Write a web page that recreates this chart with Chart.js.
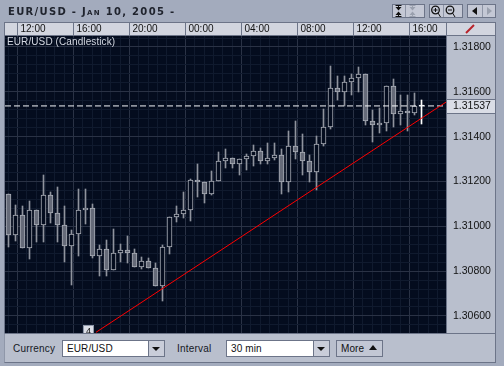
<!DOCTYPE html>
<html><head><meta charset="utf-8">
<script src="https://cdn.jsdelivr.net/npm/chart.js@4"></script>
<style>
html,body{margin:0;padding:0;background:#a3abbd;width:504px;height:366px;overflow:hidden;font-family:"Liberation Sans",Arial,sans-serif}
#c{position:absolute;left:0;top:0}
.abs{position:absolute;box-sizing:border-box}
#title{left:8px;top:6px;font:bold 10px "DejaVu Sans",sans-serif;font-variant:small-caps;letter-spacing:1.3px;color:#20242e;white-space:nowrap}
#sub{left:7px;top:36px;font-size:10px;letter-spacing:.1px;color:#d3d7e0;white-space:nowrap}
#panel{left:4px;top:333px;width:492px;height:30px;background:#b9bfcd;border:1px solid #6c7488;border-left:1px solid #8f97a9}
.lab{top:343px;font-size:10px;letter-spacing:.2px;color:#15181f;white-space:nowrap}
.inp{top:340px;height:17px;background:#fff;border:1px solid #6c7488;font-size:10px;letter-spacing:.1px;color:#111;padding:2px 0 0 4px;white-space:nowrap}
.drop{top:340px;width:17px;height:17px;background:#c9cdd9;border:1px solid #6c7488}
.drop:after{content:"";position:absolute;left:3px;top:6px;border-left:4px solid transparent;border-right:4px solid transparent;border-top:4px solid #111}
.btn{top:340px;left:336px;width:47px;height:17px;background:#c2c7d4;border:1px solid #6c7488;font-size:10px;letter-spacing:.1px;color:#111;padding:2px 0 0 4px;white-space:nowrap}
.btn:after{content:"";position:absolute;left:32px;top:4px;border-left:4px solid transparent;border-right:4px solid transparent;border-bottom:5px solid #111}
.tb{top:4px;height:14px;background:#c4c8d5;border:1px solid #6c7488}
.tb svg{display:block}
</style></head><body>
<canvas id="c" width="504" height="366"></canvas>
<div class="abs" id="title">EUR/USD - Jan 10, 2005 -</div>
<div class="abs" id="sub">EUR/USD (Candlestick)</div>
<div class="abs" id="panel"></div>
<div class="abs lab" style="left:13px">Currency</div>
<div class="abs inp" style="left:62px;width:87px">EUR/USD</div>
<div class="abs drop" style="left:148px"></div>
<div class="abs lab" style="left:177px">Interval</div>
<div class="abs inp" style="left:226px;width:88px">30 min</div>
<div class="abs drop" style="left:313px"></div>
<div class="abs btn">More</div>
<div class="abs tb" style="left:392px;width:33px"><svg width="31" height="12"><path d="M5.500 0v2M5.500 10v2M2.500 .5h6M2.500 11.500h6" stroke="#111"/><path d="M5.500 5.500l-3-3.500h6zM5.500 6.500l-3 3.500h6z" fill="#111"/><path d="M12.500 0v12" stroke="#8e95a6"/><path d="M19.500 0v2M19.500 10v2M16.500 .5h6M16.500 11.500h6" stroke="#9aa0ae"/><path d="M19.500 5.500l-3-3.500h6zM19.500 6.500l-3 3.500h6z" fill="#9aa0ae"/></svg></div>
<div class="abs tb" style="left:429px;width:34px"><svg width="32" height="12"><circle cx="5.500" cy="5" r="3.800" fill="none" stroke="#111" stroke-width="1.300"/><path d="M3.500 5h4M5.500 3v4M8 8l2.500 4" stroke="#111"/><path d="M13.500 0v12" stroke="#8e95a6"/><circle cx="20" cy="5" r="3.800" fill="none" stroke="#111" stroke-width="1.300"/><path d="M18 5h4M22.500 8l2.500 4" stroke="#111"/></svg></div>
<div class="abs tb" style="left:467px;width:29px"><svg width="27" height="12"><path d="M9 2v8l-5-4z" fill="#111"/><path d="M14.500 0v12" stroke="#8e95a6"/><path d="M19 2v8l5-4z" fill="#9aa0ae"/></svg></div>
<script>
const timeLabels=['12:00','16:00','20:00','00:00','04:00','08:00','12:00','16:00'];
const priceTicks=[1.318,1.316,1.314,1.312,1.31,1.308,1.306];
const lastPrice=1.31537;
const opens=[1.31144,1.3096,1.3105,1.30902,1.31072,1.31004,1.31139,1.31059,1.31006,1.30911,1.30966,1.31072,1.31081,1.30866,1.30899,1.30804,1.3088,1.30894,1.30881,1.30817,1.30845,1.30814,1.30733,1.30906,1.31041,1.31053,1.31072,1.31206,1.31197,1.31142,1.31202,1.31291,1.31304,1.31276,1.313,1.31313,1.31335,1.31291,1.31304,1.31317,1.31197,1.31358,1.31331,1.31291,1.31242,1.31366,1.31442,1.31616,1.31598,1.31643,1.3166,1.31678,1.31469,1.31451,1.3146,1.31625,1.315,1.31513,1.31504,1.31536];
const highs=[1.31144,1.31096,1.31092,1.31113,1.31072,1.3123,1.31153,1.31175,1.3109,1.30983,1.31166,1.31166,1.31099,1.30917,1.30939,1.30988,1.30921,1.30957,1.30899,1.30863,1.30859,1.30836,1.30917,1.31041,1.3109,1.31153,1.31211,1.31277,1.31197,1.31246,1.31331,1.31344,1.31304,1.313,1.31322,1.31362,1.31349,1.31371,1.31371,1.31344,1.31424,1.3147,1.31411,1.31317,1.31402,1.31522,1.31714,1.31669,1.31669,1.31678,1.31709,1.31678,1.31518,1.31527,1.31625,1.31656,1.31585,1.31585,1.31594,1.31562];
const lows=[1.30906,1.30936,1.30902,1.30854,1.30928,1.30928,1.31013,1.30928,1.30839,1.30737,1.30866,1.31009,1.30857,1.30777,1.30777,1.30804,1.30839,1.30835,1.30817,1.30808,1.30813,1.30733,1.30666,1.30875,1.31018,1.31035,1.31022,1.31132,1.31105,1.31138,1.31202,1.31258,1.31262,1.31227,1.31249,1.31267,1.31276,1.3128,1.31295,1.31142,1.31151,1.31302,1.31227,1.31197,1.3116,1.31358,1.31433,1.31564,1.31536,1.31585,1.31598,1.31451,1.31375,1.31415,1.31424,1.31442,1.31451,1.31424,1.31496,1.31456];
const closes=[1.3096,1.3105,1.30902,1.31072,1.31004,1.31139,1.31058,1.31004,1.30911,1.30966,1.31072,1.31081,1.30866,1.30899,1.30804,1.30881,1.30894,1.3088,1.30817,1.30845,1.30813,1.30733,1.30908,1.31041,1.31055,1.31072,1.31206,1.31197,1.31142,1.31202,1.31291,1.31304,1.31276,1.313,1.31313,1.31335,1.31291,1.31304,1.31317,1.31197,1.31358,1.31331,1.31291,1.31242,1.31366,1.31442,1.31616,1.31598,1.31643,1.3166,1.31678,1.31469,1.31451,1.3146,1.31625,1.315,1.31513,1.31504,1.31536,1.31543];
const trendX=[12.5,62.5];
const trendY=[1.30527,1.31554];

const xMin=-0.5,xMax=62.5,yMin=1.30524,yMax=1.31849;
const firstTime=9/7,timeStep=8;
const DARK='#040c1e',MAJOR='#2a3245',MINOR='#101a2e',EDGE='#6c7488';
const xMajor=timeLabels.map((_,i)=>firstTime+i*timeStep);
const last=opens.length-1;
const isUp=i=>closes[i]>=opens[i];
const xIdx=opens.map((_,i)=>i);

const wicks=xIdx.map(i=>({x:i,y:[lows[i],highs[i]]}));
const bodies=xIdx.map(i=>({x:i,y:[Math.min(opens[i],closes[i]),Math.max(opens[i],closes[i])]}));

const frame={id:'frame',
 beforeDatasetsDraw(ch){
  ch.data.datasets.forEach((d,di)=>{const m=ch.getDatasetMeta(di);if(m.type!=='bar')return;
   m.data.forEach(el=>{el.y=Math.round(el.y);el.base=Math.round(el.base);if(el.y===el.base)el.base+=1;});});},
 beforeDraw(ch){const c=ch.ctx,a=ch.chartArea;c.save();
  c.fillStyle='#b9bfcd';c.fillRect(a.right,a.top,49,a.bottom-a.top);
  c.fillStyle='#d2d5df';c.fillRect(a.left,23,a.right-a.left+49,a.top-23);
  c.fillStyle=DARK;c.fillRect(a.left,a.top,a.right-a.left,a.bottom-a.top);
  c.fillStyle=EDGE;
  c.fillRect(4,22,492,1);c.fillRect(4,a.top-1,492,1);c.fillRect(4,22,1,a.bottom-22);c.fillRect(495,22,1,a.bottom-22);c.fillRect(a.right,22,1,a.bottom-22);
  xMajor.forEach(v=>c.fillRect(Math.floor(ch.scales.x.getPixelForValue(v)),23,1,13));
  const py=Math.round(ch.scales.y.getPixelForValue(lastPrice));
  c.fillStyle='#dadde6';c.fillRect(a.right+1,py-6,48,13);
  c.fillStyle=EDGE;c.fillRect(a.right,py-7,49,1);c.fillRect(a.right,py+7,49,1);
  c.strokeStyle='#b8222a';c.lineWidth=2;c.beginPath();c.moveTo(466,33);c.lineTo(474,25);c.stroke();
  c.restore();},
 afterDraw(ch){const c=ch.ctx,a=ch.chartArea,s=ch.scales;
  const x=Math.round(s.x.getPixelForValue(trendX[0])),y=Math.round(s.y.getPixelForValue(trendY[0]));
  c.save();c.beginPath();c.rect(a.left,a.top,a.right-a.left,a.bottom-a.top);c.clip();
  c.fillStyle='#dadde6';c.fillRect(x-13,y-7,11,12);c.strokeStyle='#8f97a9';c.strokeRect(x-12.5,y-6.5,10,12);
  c.fillStyle='#111';c.font='9px "Liberation Sans"';c.textAlign='center';c.textBaseline='top';c.fillText('4',x-7.5,y-5);
  c.restore();}
};

new Chart(document.getElementById('c'),{
 type:'bar',
 plugins:[frame],
 data:{datasets:[
  {type:'line',label:'Trend',data:trendX.map((x,i)=>({x,y:trendY[i]})),borderColor:'#ff0000',borderWidth:1,pointRadius:0,order:1},
  {type:'line',label:'Last',data:[{x:xMin,y:lastPrice},{x:xMax,y:lastPrice}],borderColor:'#f4f6fa',borderWidth:1,borderDash:[6,3],pointRadius:0,order:2},
  {label:'Body',data:bodies,grouped:false,barThickness:5,borderWidth:1,borderSkipped:false,order:3,
   borderColor:c=>c.dataIndex===last?'#ffffff':'#a9adb6',
   backgroundColor:c=>c.dataIndex===last?'#ffffff':(isUp(c.dataIndex)?DARK:'#666b79')},
  {label:'Wick',data:wicks,grouped:false,barThickness:1,borderWidth:0,order:4,
   backgroundColor:c=>c.dataIndex===last?'#ffffff':'#8f939d'}
 ]},
 options:{responsive:false,animation:false,
  layout:{padding:{left:5,right:0,top:0,bottom:33}},
  plugins:{legend:{display:false},tooltip:{enabled:false},title:{display:false}},
  scales:{
   x:{type:'linear',position:'top',min:xMin,max:xMax,offset:false,
    afterFit(s){s.height=36;},
    afterBuildTicks(s){const t=[];for(let v=firstTime-timeStep/6;v<xMax;v+=timeStep/6)t.push({value:v});s.ticks=t;},
    grid:{offset:false,drawTicks:false,
     color:c=>{const v=c.tick?c.tick.value:0;return xMajor.some(m=>Math.abs(m-v)<1e-6)?MAJOR:MINOR;}},
    border:{display:false},
    ticks:{autoSkip:false,maxRotation:0,align:'start',labelOffset:3,padding:1,color:'#111',font:{family:'"Liberation Sans"',size:10},
     callback(v){const i=xMajor.findIndex(m=>Math.abs(m-v)<1e-6);return i>=0?timeLabels[i]:'';}}},
   y:{type:'linear',position:'right',min:yMin,max:yMax,
    afterFit(s){s.width=58;},
    afterBuildTicks(s){const t=[];for(let v=priceTicks[6];v<yMax;v+=0.0004)t.push({value:v});t.unshift({value:priceTicks[6]-0.0004});t.push({value:lastPrice});s.ticks=t;},
    grid:{drawTicks:false,
     color:c=>{const v=c.tick?c.tick.value:0;if(Math.abs(v-lastPrice)<1e-7)return 'rgba(0,0,0,0)';return priceTicks.some(m=>Math.abs(m-v)<1e-6)?MAJOR:MINOR;}},
    border:{display:false},
    ticks:{autoSkip:false,padding:7,color:'#111',font:{family:'"Liberation Sans"',size:10.5},
     callback(v){return (Math.abs(v-lastPrice)<1e-7||priceTicks.some(m=>Math.abs(m-v)<1e-6))?v.toFixed(5):'';}}}
  }
 }
});
</script>
</body></html>
